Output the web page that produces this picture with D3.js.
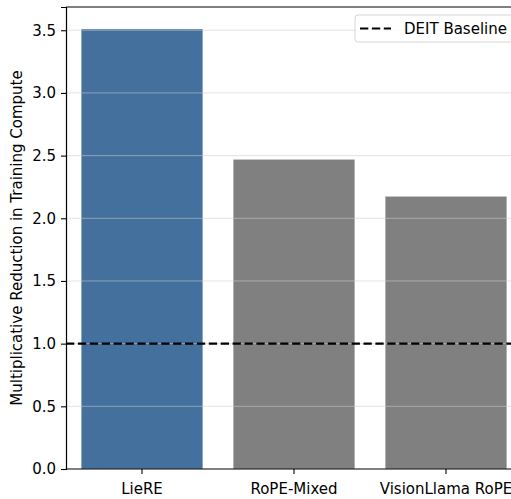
<!DOCTYPE html>
<html>
<head>
<meta charset="utf-8">
<script src="https://cdn.jsdelivr.net/npm/d3@7.9.0/dist/d3.min.js"></script>
<style>
  html, body { margin: 0; padding: 0; background: #fff; }
  svg { display: block; font-family: "DejaVu Sans", sans-serif; }
</style>
</head>
<body>
<svg id="chart" width="511" height="499"></svg>
<script>
const methods = ['LieRE', 'RoPE-Mixed', 'VisionLlama RoPE'];
const reduction = [3.51, 2.47, 2.175];
const barColors = ['#44709d', '#808080', '#808080'];
const baseline = 1.0;
const yTicks = [0, 0.5, 1.0, 1.5, 2.0, 2.5, 3.0, 3.5];

const svg = d3.select('#chart');
const mLeft = 66, mRight = 522, mTop = 7, mBottom = 469;
const fs = 15;

const x = d3.scaleBand().domain(methods).range([mLeft, mRight])
  .paddingInner(0.2).paddingOuter(0.1);
const y = d3.scaleLinear().domain([0, d3.max(reduction) * 1.05]).range([mBottom, mTop]);

// bars
svg.append('g').selectAll('rect')
  .data(methods)
  .join('rect')
  .attr('x', d => x(d))
  .attr('width', x.bandwidth())
  .attr('y', (d, i) => y(reduction[i]))
  .attr('height', (d, i) => y(0) - y(reduction[i]))
  .attr('fill', (d, i) => barColors[i])
  .attr('stroke', '#ffffff')
  .attr('stroke-opacity', 0.35)
  .attr('stroke-width', 1);

// grid on top of bars
svg.append('g').selectAll('line')
  .data(yTicks.filter(t => t > 0))
  .join('line')
  .attr('x1', mLeft).attr('x2', mRight)
  .attr('y1', d => y(d)).attr('y2', d => y(d))
  .attr('stroke', '#cccccc')
  .attr('stroke-opacity', 0.55)
  .attr('stroke-width', 1);

// baseline
svg.append('line')
  .attr('x1', mLeft).attr('x2', mRight)
  .attr('y1', y(baseline)).attr('y2', y(baseline))
  .attr('stroke', '#000')
  .attr('stroke-width', 2.2)
  .attr('stroke-dasharray', '8.3,3.6');

// axes
const yAxis = svg.append('g')
  .attr('transform', `translate(${mLeft},0)`)
  .call(d3.axisLeft(y).tickValues(yTicks).tickFormat(d3.format('.1f')).tickSizeOuter(0).tickSize(5).tickPadding(5));
yAxis.select('.domain').attr('stroke', '#000').attr('stroke-width', 1.2);
yAxis.selectAll('.tick line').attr('stroke', '#000').attr('stroke-width', 1.1);
yAxis.selectAll('.tick text').attr('font-size', fs).attr('fill', '#000')
  .attr('font-family', '"DejaVu Sans", sans-serif');

const xAxis = svg.append('g')
  .attr('transform', `translate(0,${mBottom})`)
  .call(d3.axisBottom(x).tickSizeOuter(0).tickSize(5).tickPadding(9.5));
xAxis.select('.domain').attr('stroke', '#000').attr('stroke-width', 1.2)
  .attr('d', `M${mLeft},0H${mRight}`);
xAxis.selectAll('.tick line').attr('stroke', '#000').attr('stroke-width', 1.1);
xAxis.selectAll('.tick text').attr('font-size', fs).attr('fill', '#000')
  .attr('font-family', '"DejaVu Sans", sans-serif');

// top spine
svg.append('line')
  .attr('x1', mLeft).attr('x2', mRight)
  .attr('y1', mTop).attr('y2', mTop)
  .attr('stroke', '#000').attr('stroke-width', 1.2);

// y label
svg.append('text')
  .attr('transform', `translate(22,${(mTop + mBottom) / 2}) rotate(-90)`)
  .attr('text-anchor', 'middle')
  .attr('font-size', fs)
  .text('Multiplicative Reduction in Training Compute');

// legend
const lg = svg.append('g').attr('transform', 'translate(355,15)');
lg.append('rect')
  .attr('width', 180).attr('height', 27).attr('rx', 3)
  .attr('fill', '#fff').attr('fill-opacity', 0.8)
  .attr('stroke', '#d5d5d5').attr('stroke-width', 1);
lg.append('line')
  .attr('x1', 5).attr('x2', 36).attr('y1', 13.5).attr('y2', 13.5)
  .attr('stroke', '#000').attr('stroke-width', 2.2)
  .attr('stroke-dasharray', '8.3,3.6');
lg.append('text')
  .attr('x', 49).attr('y', 19)
  .attr('font-size', fs)
  .text('DEIT Baseline');
</script>
</body>
</html>
